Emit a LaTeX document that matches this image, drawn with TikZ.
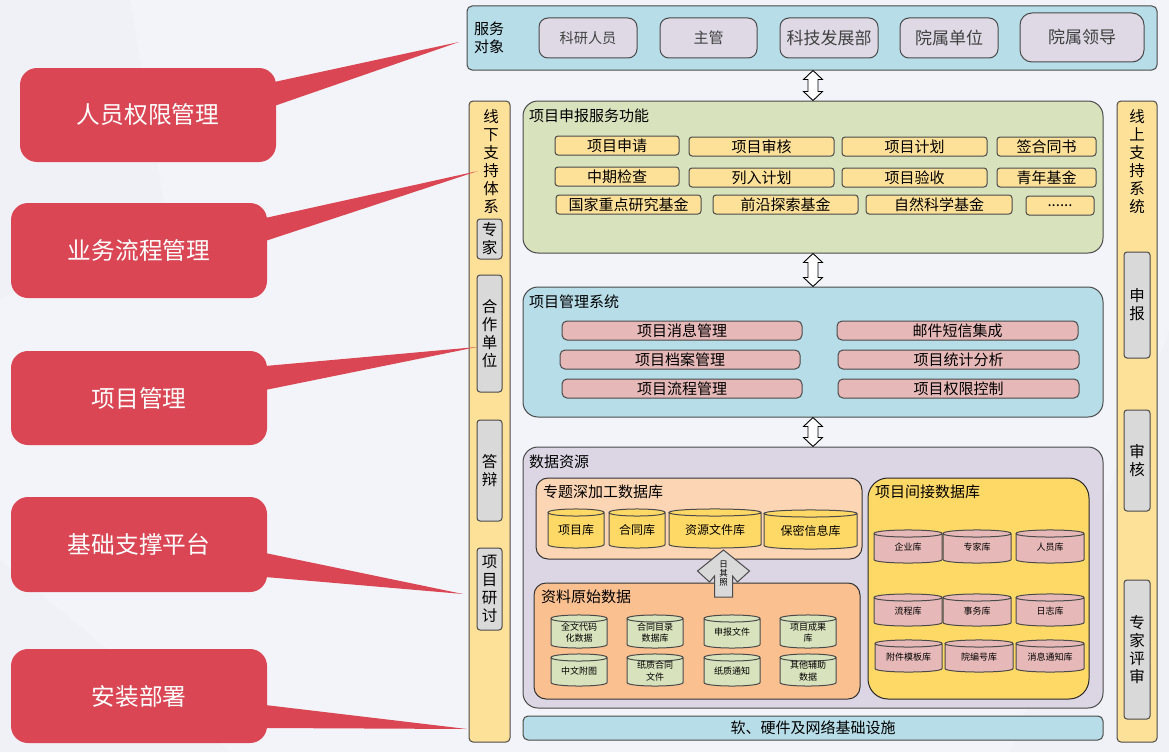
\documentclass[tikz,border=0pt]{standalone}
\usepackage{fontspec}
\setmainfont{Noto Sans CJK SC}
\usetikzlibrary{calc}
\definecolor{bgc}{HTML}{F3F4F9}
\definecolor{bgd}{HTML}{EEEFF4}
\definecolor{edgec}{HTML}{4A4A4A}
\definecolor{bluec}{HTML}{B7DDE8}
\definecolor{lilac}{HTML}{DFD9E6}
\definecolor{purplec}{HTML}{DCD6E4}
\definecolor{greenc}{HTML}{D8E3BD}
\definecolor{barc}{HTML}{FEE199}
\definecolor{pinkc}{HTML}{E6B9B8}
\definecolor{grayc}{HTML}{D9D9D9}
\definecolor{peachc}{HTML}{FCD5B5}
\definecolor{orangec}{HTML}{FAC090}
\definecolor{goldc}{HTML}{FFD966}
\definecolor{redc}{HTML}{DA4653}
\newcommand\fs[1]{\fontsize{#1}{#1}\selectfont}
\tikzset{
  panel/.style={draw=edgec,line width=1pt,rounded corners=#1,inner sep=0pt},
  panel/.default=3pt,
  blockbox/.style={panel=3pt,text=black},
  titlelabel/.style={anchor=west,inner sep=0pt,font=\fs{15}},
  vlabel/.style={align=center,inner sep=0pt,font=\fontsize{15.5}{18}\selectfont},
  callout/.style={fill=redc,rounded corners=17pt,text=white,inner sep=0pt,font=\fs{23.7}},
  pointer/.style={fill=redc},
  dblarrow/.style={draw=black,fill=white,line width=.9pt,line join=miter},
}
% name, x1, y1, x2, y2, style, text
\newcommand\bx[7]{%
  \pgfmathsetmacro\bw{#4-#2}\pgfmathsetmacro\bh{#5-#3}%
  \pgfmathsetmacro\cx{(#2+#4)/2}\pgfmathsetmacro\cy{(#3+#5)/2}%
  \node[#6,minimum width=\bw pt,minimum height=\bh pt] (#1) at (\cx,\cy) {#7};}
% name, x1, y1, x2, y2, fill, size, text
\newcommand\cyl[8]{%
  \pgfmathsetmacro\cx{(#2+#4)/2}\pgfmathsetmacro\cy{(#3+#5)/2+1}%
  \pgfmathsetmacro\ctop{#3+3.5}\pgfmathsetmacro\cbot{#5-3.5}%
  \pgfmathsetmacro\cup{#3-1.2}\pgfmathsetmacro\cdn{#3+8.2}\pgfmathsetmacro\cbd{#5+1.2}%
  \draw[draw=edgec,line width=1pt,fill=#6]
    (#2,\ctop) -- (#2,\cbot) .. controls (#2,\cbd) and (#4,\cbd) .. (#4,\cbot)
    -- (#4,\ctop) .. controls (#4,\cup) and (#2,\cup) .. (#2,\ctop)
    .. controls (#2,\cdn) and (#4,\cdn) .. (#4,\ctop);
  \node[align=center,inner sep=0pt,font=\fontsize{#7}{11.5}\selectfont] (#1) at (\cx,\cy) {#8};}
% double arrow between two named points
\newcommand\dblarr[2]{%
  \draw[dblarrow] let \p1=(#1),\p2=(#2) in
    (\x1,\y1) -- (\x1+9.5pt,\y1-9pt) -- (\x1+5pt,\y1-9pt) -- (\x1+5pt,\y2+9pt) -- (\x1+9.5pt,\y2+9pt)
    -- (\x2,\y2) -- (\x1-9.5pt,\y2+9pt) -- (\x1-5pt,\y2+9pt) -- (\x1-5pt,\y1-9pt) -- (\x1-9.5pt,\y1-9pt) -- cycle;}
% callout pointer: from box to free tip
\newcommand\ptr[4]{%
  \fill[pointer] let \p1=(#1.east) in (#2) -- (\x1-2pt,-#3pt) -- (\x1-2pt,-#4pt) -- cycle;}
\begin{document}
\begin{tikzpicture}[x=1pt,y=-1pt]
\useasboundingbox (0,0) rectangle (1169,752);
\fill[bgc] (0,0) rectangle (1169,752);
\fill[bgd,opacity=.6] (130,0) -- (165,210) -- (0,300) -- (0,0) -- cycle;
\fill[bgd,opacity=.6] (1169,0) -- (1169,330) -- (1010,752) -- (1169,752) -- cycle;
\fill[bgd,opacity=.6] (0,560) -- (230,752) -- (0,752) -- cycle;

% service row
\bx{svc}{467}{6}{1157}{70}{panel=5pt,fill=bluec}{}
\node[vlabel,font=\fontsize{15}{18}\selectfont] (svclab) at (489,38) {服务\\对象};
\tikzset{svcbtn/.style={panel=9pt,fill=lilac,text=black!75}}
\bx{s1}{539}{18}{637}{58}{svcbtn,font=\fs{14.2}}{科研人员}
\bx{s2}{660}{18}{757}{58}{svcbtn,font=\fs{15}}{主管}
\bx{s3}{780}{18}{878}{58}{svcbtn,font=\fs{17}}{科技发展部}
\bx{s4}{900}{18}{998}{58}{svcbtn,font=\fs{17}}{院属单位}
\bx{s5}{1020}{13}{1144}{62}{svcbtn,panel=12pt,font=\fs{17}}{院属领导}

% left bar
\bx{lbar}{469}{101}{510}{742}{panel=4pt,fill=barc}{}
\node[vlabel] (ltitle) at (491,162) {线\\下\\支\\持\\体\\系};
\tikzset{sidebox/.style={panel=3pt,fill=grayc,align=center,font=\fontsize{15.5}{18}\selectfont}}
\bx{l1}{477}{219}{502}{259}{sidebox}{专\\家}
\bx{l2}{477}{275}{502}{392}{sidebox}{合\\作\\单\\位}
\bx{l3}{477}{420}{502}{521}{sidebox}{答\\辩}
\bx{l4}{477}{548}{502}{630}{sidebox}{项\\目\\研\\讨}

% right bar
\bx{rbar}{1117}{101}{1157}{742}{panel=4pt,fill=barc}{}
\node[vlabel] (rtitle) at (1137,162) {线\\上\\支\\持\\系\\统};
\bx{r1}{1124}{252}{1150}{358}{sidebox}{申\\报}
\bx{r2}{1124}{410}{1150}{511}{sidebox}{审\\核}
\bx{r3}{1124}{580}{1150}{719}{sidebox}{专\\家\\评\\审}

% green panel
\bx{green}{523}{101}{1103}{253}{panel=15pt,fill=greenc}{}
\node[titlelabel] (gt) at (529,116) {项目申报服务功能};
\tikzset{item/.style={blockbox,fill=barc,font=\fs{15}}}
\bx{a1}{555}{136}{679}{155}{item}{项目申请}
\bx{a2}{689}{137}{834}{156}{item}{项目审核}
\bx{a3}{842}{137}{987}{156}{item}{项目计划}
\bx{a4}{997}{137}{1096}{156}{item}{签合同书}
\bx{b1}{555}{167}{679}{186}{item}{中期检查}
\bx{b2}{689}{168}{834}{187}{item}{列入计划}
\bx{b3}{842}{168}{987}{187}{item}{项目验收}
\bx{b4}{997}{168}{1096}{187}{item}{青年基金}
\bx{c1}{556}{195}{701}{214}{item}{国家重点研究基金}
\bx{c2}{713}{195}{858}{214}{item}{前沿探索基金}
\bx{c3}{866}{195}{1012}{214}{item}{自然科学基金}
\bx{c4}{1026}{196}{1094}{215}{item}{......}

% blue panel
\bx{blue}{523}{287}{1103}{417}{panel=15pt,fill=bluec}{}
\node[titlelabel] (bt) at (529,302) {项目管理系统};
\tikzset{mitem/.style={panel=5pt,fill=pinkc,font=\fs{15}}}
\bx{m1}{562}{321}{802}{340}{mitem}{项目消息管理}
\bx{m2}{560}{350}{800}{369}{mitem}{项目档案管理}
\bx{m3}{562}{379}{802}{398}{mitem}{项目流程管理}
\bx{m4}{837}{321}{1078}{340}{mitem}{邮件短信集成}
\bx{m5}{838}{350}{1079}{369}{mitem}{项目统计分析}
\bx{m6}{838}{379}{1079}{398}{mitem}{项目权限控制}

% data panel
\bx{data}{523}{447}{1103}{708}{panel=15pt,fill=purplec}{}
\node[titlelabel] (dt) at (529,462) {数据资源};
\bx{topic}{536}{478}{862}{559}{panel=12pt,fill=peachc,draw=black!80}{}
\node[titlelabel] (tt) at (543,492) {专题深加工数据库};
\cyl{t1}{548}{509}{604}{548}{goldc}{12}{项目库}
\cyl{t2}{609}{509}{665}{548}{goldc}{12}{合同库}
\cyl{t3}{669}{509}{761}{548}{goldc}{12}{资源文件库}
\cyl{t4}{764}{510}{857}{549}{goldc}{12}{保密信息库}

\bx{raw}{534}{583}{860}{699}{panel=12pt,fill=orangec,draw=black!80}{}
\node[titlelabel] (rawt) at (541,597) {资料原始数据};
\cyl{u1}{551}{615}{607}{648}{greenc}{9}{全文代码\\化数据}
\cyl{u2}{627}{615}{683}{648}{greenc}{9}{合同目录\\数据库}
\cyl{u3}{704}{615}{760}{648}{greenc}{9}{申报文件}
\cyl{u4}{780}{615}{836}{648}{greenc}{9}{项目成果\\库}
\cyl{v1}{551}{654}{607}{686}{greenc}{9}{中文附图}
\cyl{v2}{627}{654}{683}{686}{greenc}{9}{纸质合同\\文件}
\cyl{v3}{704}{654}{760}{686}{greenc}{9}{纸质通知}
\cyl{v4}{780}{654}{836}{686}{greenc}{9}{其他辅助\\数据}

\bx{indir}{868}{478}{1089}{699}{panel=20pt,fill=goldc,draw=black!85}{}
\node[titlelabel] (it) at (875,492) {项目间接数据库};
\cyl{w1}{874}{530}{942}{563}{pinkc}{9}{企业库}
\cyl{w2}{943}{530}{1011}{563}{pinkc}{9}{专家库}
\cyl{w3}{1016}{530}{1084}{563}{pinkc}{9}{人员库}
\cyl{w4}{874}{594}{942}{626}{pinkc}{9}{流程库}
\cyl{w5}{943}{594}{1011}{626}{pinkc}{9}{事务库}
\cyl{w6}{1016}{594}{1084}{626}{pinkc}{9}{日志库}
\cyl{w7}{875}{640}{942}{672}{pinkc}{9}{附件模板库}
\cyl{w8}{945}{640}{1013}{672}{pinkc}{9}{院编号库}
\cyl{w9}{1016}{640}{1084}{672}{pinkc}{9}{消息通知库}

% up arrow between raw data and topic data
\coordinate (uptip) at (723.5,550);
\coordinate (upbase) at (723.5,597);
\draw[draw=edgec,line width=1pt,fill=grayc,line join=miter] let \p1=(uptip),\p2=(upbase) in
  (\p1) -- (\x1+26pt,\y1-21pt) -- (\x1+14pt,\y1-32pt) -- (\x1+9pt,\y1-26pt) -- (\x1+9pt,\y2)
  -- (\x1-9pt,\y2) -- (\x1-9pt,\y1-26pt) -- (\x1-14pt,\y1-32pt) -- (\x1-26pt,\y1-21pt) -- cycle;
\node[align=center,inner sep=0pt,font=\fontsize{8.5}{9}\selectfont] (uplab) at (723.5,574) {日\\其\\照};

% infrastructure
\bx{infra}{523}{716}{1103}{740}{panel=5pt,fill=bluec,font=\fs{15}}{软、硬件及网络基础设施}

% double arrows
\dblarr{green.north |- svc.south}{green.north}
\dblarr{green.south}{blue.north}
\dblarr{blue.south}{data.north}

% callouts
\bx{k1}{20}{68}{276}{162}{callout}{人员权限管理}
\bx{k2}{11}{203}{267}{298}{callout}{业务流程管理}
\bx{k3}{11}{351}{267}{445}{callout}{项目管理}
\bx{k4}{11}{497}{267}{592}{callout}{基础支撑平台}
\bx{k5}{11}{649}{267}{743}{callout}{安装部署}
\coordinate (t1tip) at (459,42);
\coordinate (t2tip) at (478,171);
\coordinate (t3tip) at (477,347);
\coordinate (t4tip) at (463,594);
\coordinate (t5tip) at (467,729);
\ptr{k1}{t1tip}{82}{106}
\ptr{k2}{t2tip}{218}{241}
\ptr{k3}{t3tip}{366}{390}
\ptr{k4}{t4tip}{553}{577}
\ptr{k5}{t5tip}{705}{728}
\end{tikzpicture}
\end{document}
